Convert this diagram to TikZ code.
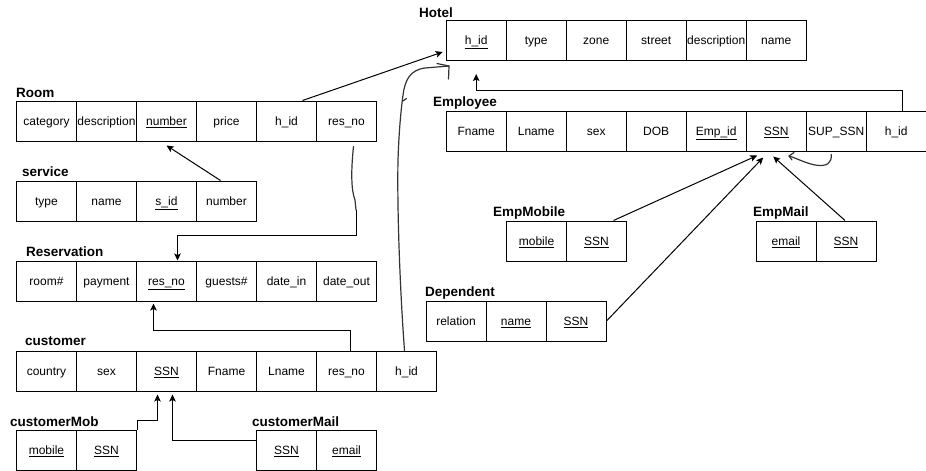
\documentclass[tikz,border=0pt]{standalone}
\usepackage{fontspec}
\setmainfont{Liberation Sans}
\usetikzlibrary{arrows.meta}

% one table row: prefix, left x, top y, list of key/label
\newcommand\tablerow[4]{%
  \foreach \k/\t [count=\i from 0] in {#4} {
    \node[cell] (#1-\k) at ({#2+60*\i},#3) {\t};
  }%
}

\begin{document}
\begin{tikzpicture}[x=1pt,y=-1pt,
  cell/.style={draw=black, line width=1pt, anchor=north west, inner sep=0pt,
    minimum width=60pt, minimum height=40pt, text height=10pt, text depth=1.5pt,
    font=\fontsize{12}{14}\selectfont},
  title/.style={anchor=base west, inner sep=0pt, font=\fontsize{13.5}{16}\selectfont\bfseries},
  fk/.style={draw=black, line width=1pt, -{Stealth[length=7pt,width=6.5pt,inset=1.5pt]}},
  hand/.style={draw=black!80, line width=1.2pt, line cap=round, line join=round}]

\useasboundingbox[fill=white] (0,0) rectangle (926,471);

% ---- tables ----
\node[title] (t-hotel) at (419,17) {Hotel};
\tablerow{hotel}{445.7}{20}{hid/\underline{h\_id}, type/type, zone/zone, street/street, desc/description, name/name}

\node[title] (t-room) at (16,97) {Room};
\tablerow{room}{16}{100.5}{cat/category, desc/description, number/\underline{number}, price/price, hid/h\_id, resno/res\_no}

\node[title] (t-service) at (22,176) {service};
\tablerow{service}{16}{180.5}{type/type, name/name, sid/\underline{s\_id}, number/number}

\node[title] (t-res) at (26,256) {Reservation};
\tablerow{res}{16}{260.5}{room/room\#, pay/payment, resno/\underline{res\_no}, guests/guests\#, din/date\_in, dout/date\_out}

\node[title] (t-cust) at (25,345.7) {customer};
\tablerow{cust}{16}{350.5}{country/country, sex/sex, ssn/\underline{SSN}, fname/Fname, lname/Lname, resno/res\_no, hid/h\_id}

\node[title] (t-cmob) at (10,426) {customerMob};
\tablerow{cmob}{16}{430}{mobile/\underline{mobile}, ssn/\underline{SSN}}

\node[title] (t-cmail) at (252,426) {customerMail};
\tablerow{cmail}{256}{430}{ssn/\underline{SSN}, email/\underline{email}}

\node[title] (t-emp) at (433,106) {Employee};
\tablerow{emp}{445.7}{110.5}{fname/Fname, lname/Lname, sex/sex, dob/DOB, eid/\underline{Emp\_id}, ssn/\underline{SSN}, supssn/SUP\_SSN, hid/h\_id}

\node[title] (t-empmob) at (493,216) {EmpMobile};
\tablerow{empmob}{506}{220.5}{mobile/\underline{mobile}, ssn/\underline{SSN}}

\node[title] (t-empmail) at (753,216) {EmpMail};
\tablerow{empmail}{755.5}{220.5}{email/\underline{email}, ssn/\underline{SSN}}

\node[title] (t-dep) at (425,296) {Dependent};
\tablerow{dep}{425.5}{300.5}{rel/relation, name/\underline{name}, ssn/\underline{SSN}}

% ---- connectors ----
\draw[fk] ([xshift=16pt]room-hid.north) -- ([xshift=-3pt,yshift=9pt]hotel-hid.south west);
\draw[fk] ([xshift=-6pt]service-number.north) -- ([yshift=-4pt]room-number.south);

% room res_no -> reservation res_no (hand-drawn upper part)
\coordinate (rr-mid) at (356,210);
\draw[hand] ([xshift=7pt,yshift=-5pt]room-resno.south)
  .. controls (351,170) and (351,190) .. (355,200) -- (rr-mid);
\draw[fk] (rr-mid) -- (356,235) -| ([xshift=11pt]res-resno.north);

\draw[fk] ([xshift=4pt]cust-resno.north) -- ++(0,-20) -| ([xshift=-13pt,yshift=-2pt]res-resno.south);
\draw[fk] (cmob-ssn.north east) -- ++(0,-10) -| ([xshift=-9pt,yshift=-3pt]cust-ssn.south);
\draw[fk] ([yshift=10pt]cmail-ssn.west) -| ([xshift=6pt,yshift=-3pt]cust-ssn.south);

\draw[fk] ([xshift=6pt]emp-hid.north) -- ++(0,-20) -| ([yshift=-13pt]hotel-hid.south);

\draw[fk] ([xshift=17pt]empmob-ssn.north) -- ([xshift=-19pt,yshift=-4pt]emp-ssn.south);
\draw[fk] (dep-ssn.east) -- ([xshift=-13pt,yshift=-6pt]emp-ssn.south);
\draw[fk] ([xshift=-1pt]empmail-ssn.north) -- ([xshift=-3pt,yshift=-5pt]emp-ssn.south);

% SUP_SSN -> SSN, hand-drawn hook
\coordinate (sup-tip) at (789,156);
\draw[hand] ([xshift=-5pt,yshift=-3pt]emp-supssn.south)
  .. controls (832,163) and (827,167) .. (815,165)
  .. controls (805,163) and (796,158) .. (sup-tip);
\draw[hand] (794,152.5) -- (sup-tip) -- (792,160);

% customer h_id -> Hotel, hand-drawn
\coordinate (hc-tip) at (449,66);
\draw[hand] ([xshift=-2pt]cust-hid.north)
  .. controls (400,290) and (397,210) .. (398,160)
  .. controls (399,130) and (401,110) .. (403,95)
  .. controls (405,80) and (410,70) .. (425,68) -- (hc-tip);
\draw[hand] (437,63.5) -- (hc-tip) -- (448.5,79);
\draw[hand] (403,101) -- (406.5,98.5);

\end{tikzpicture}
\end{document}
